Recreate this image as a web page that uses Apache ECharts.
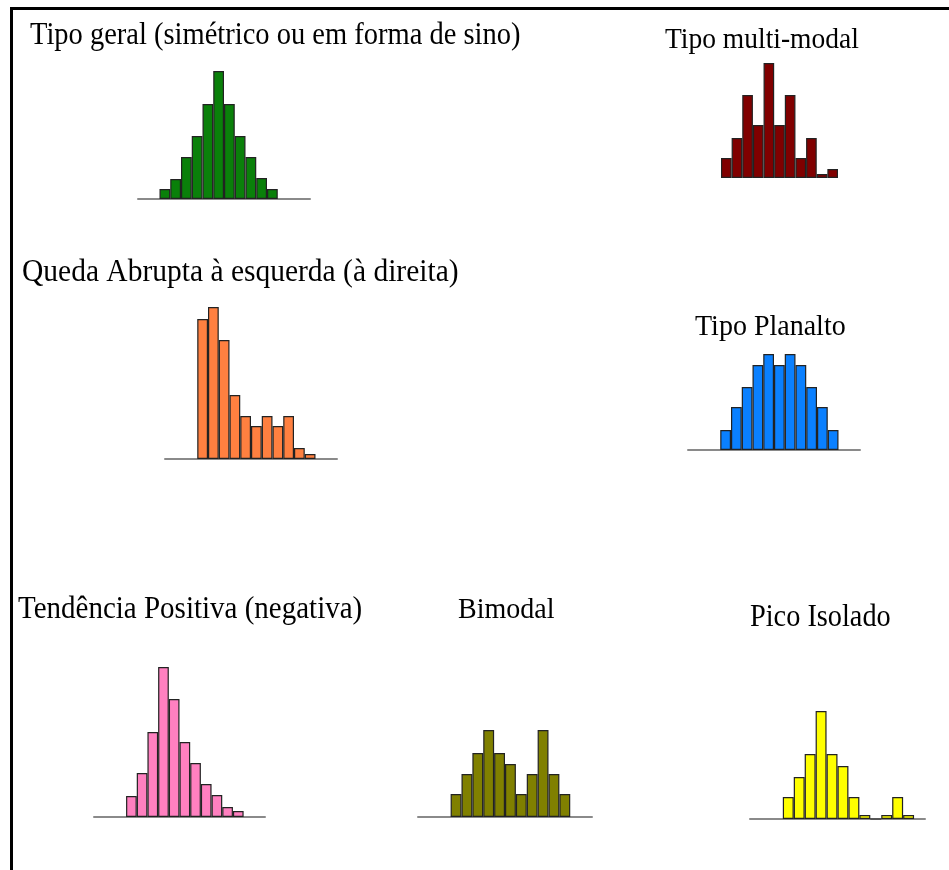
<!DOCTYPE html>
<html>
<head>
<meta charset="utf-8">
<script src="https://cdn.jsdelivr.net/npm/echarts@6/dist/echarts.min.js"></script>
<style>
  html, body { margin: 0; padding: 0; background: #fff; }
  #main { width: 949px; height: 870px; }
</style>
</head>
<body>
<div id="main"></div>
<script>
// alturas das barras (unidades arbitrárias)
const geral = [10, 20, 42, 63, 95, 128, 95, 63, 42, 21, 10];
const multiModal = [20, 40, 83, 53, 115, 53, 83, 20, 40, 4, 9];
const quedaAbrupta = [140, 152, 119, 64, 43, 33, 43, 33, 43, 11, 5];
const planalto = [20, 43, 63, 85, 96, 85, 96, 85, 63, 43, 20];
const tendencia = [21, 44, 85, 150, 118, 75, 54, 33, 22, 10, 6];
const bimodal = [23, 43, 64, 87, 64, 53, 23, 43, 87, 43, 23];
const picoIsolado = [22, 42, 65, 108, 65, 53, 22, 4, 0, 4, 22, 4];

const titulos = [
  'Tipo geral (simétrico ou em forma de sino)',
  'Tipo multi-modal',
  'Queda Abrupta à esquerda (à direita)',
  'Tipo Planalto',
  'Tendência Positiva (negativa)',
  'Bimodal',
  'Pico Isolado'
];

// layout de cada histograma: x/largura da linha base, y da base, classes vazias antes/depois
const paineis = [
  { data: geral, color: '#0a800a', left: 138, width: 172, base: 199, padL: 2, padR: 3, axis: true },
  { data: multiModal, color: '#800000', left: 721, width: 117, base: 178, padL: 0, padR: 0, axis: false },
  { data: quedaAbrupta, color: '#ff8040', left: 165, width: 172, base: 459, padL: 3, padR: 2, axis: true },
  { data: planalto, color: '#0a80ff', left: 688, width: 172, base: 450, padL: 3, padR: 2, axis: true },
  { data: tendencia, color: '#ff80c0', left: 94, width: 171, base: 817, padL: 3, padR: 2, axis: true },
  { data: bimodal, color: '#808000', left: 418, width: 174, base: 817, padL: 3, padR: 2, axis: true },
  { data: picoIsolado, color: '#ffff00', left: 750, width: 175, base: 819, padL: 3, padR: 1, axis: true }
];

// [x esquerda, y centro, tamanho da fonte]
const tituloPos = [
  [30, 36, 28.5], [665, 40, 27.5], [22, 273, 29.5], [695, 327, 28], [18, 610, 29], [458, 610, 28], [750, 618, 28.3]
];

const myChart = echarts.init(document.getElementById('main'));

const grid = [], xAxis = [], yAxis = [], series = [];
paineis.forEach((p, i) => {
  const maxV = Math.max(...p.data);
  const padded = Array(p.padL).fill(null).concat(p.data, Array(p.padR).fill(null));
  grid.push({ left: p.left, width: p.width, top: p.base - maxV, height: maxV });
  xAxis.push({
    gridIndex: i,
    type: 'category',
    data: padded.map((_, k) => k),
    boundaryGap: true,
    axisLine: { show: p.axis, lineStyle: { color: '#8a8a8a', width: 2 } },
    axisTick: { show: false },
    axisLabel: { show: false },
    splitLine: { show: false }
  });
  yAxis.push({
    gridIndex: i,
    type: 'value',
    min: 0,
    max: maxV,
    show: false,
    splitLine: { show: false }
  });
  series.push({
    type: 'bar',
    xAxisIndex: i,
    yAxisIndex: i,
    data: padded,
    barCategoryGap: 0,
    silent: true,
    itemStyle: { color: p.color, borderColor: '#222', borderWidth: 1.2 }
  });
});

// títulos como texto (ligeiramente esticados na vertical como no original)
const textos = titulos.map((t, i) => ({
  type: 'text',
  x: tituloPos[i][0],
  y: tituloPos[i][1],
  scaleY: 1.08,
  silent: true,
  style: {
    text: t,
    font: tituloPos[i][2] + 'px "Liberation Serif"',
    fill: '#000',
    verticalAlign: 'middle'
  }
}));

const options = {
  backgroundColor: '#fff',
  animation: false,
  grid: grid,
  xAxis: xAxis,
  yAxis: yAxis,
  series: series,
  graphic: textos.concat([
    // moldura (só esquerda e topo visíveis)
    { type: 'line', silent: true, shape: { x1: 11.5, y1: 7, x2: 11.5, y2: 870 }, style: { stroke: '#000', lineWidth: 3 } },
    { type: 'line', silent: true, shape: { x1: 10, y1: 8.5, x2: 949, y2: 8.5 }, style: { stroke: '#000', lineWidth: 3 } }
  ])
};

myChart.setOption(options);
</script>
</body>
</html>
